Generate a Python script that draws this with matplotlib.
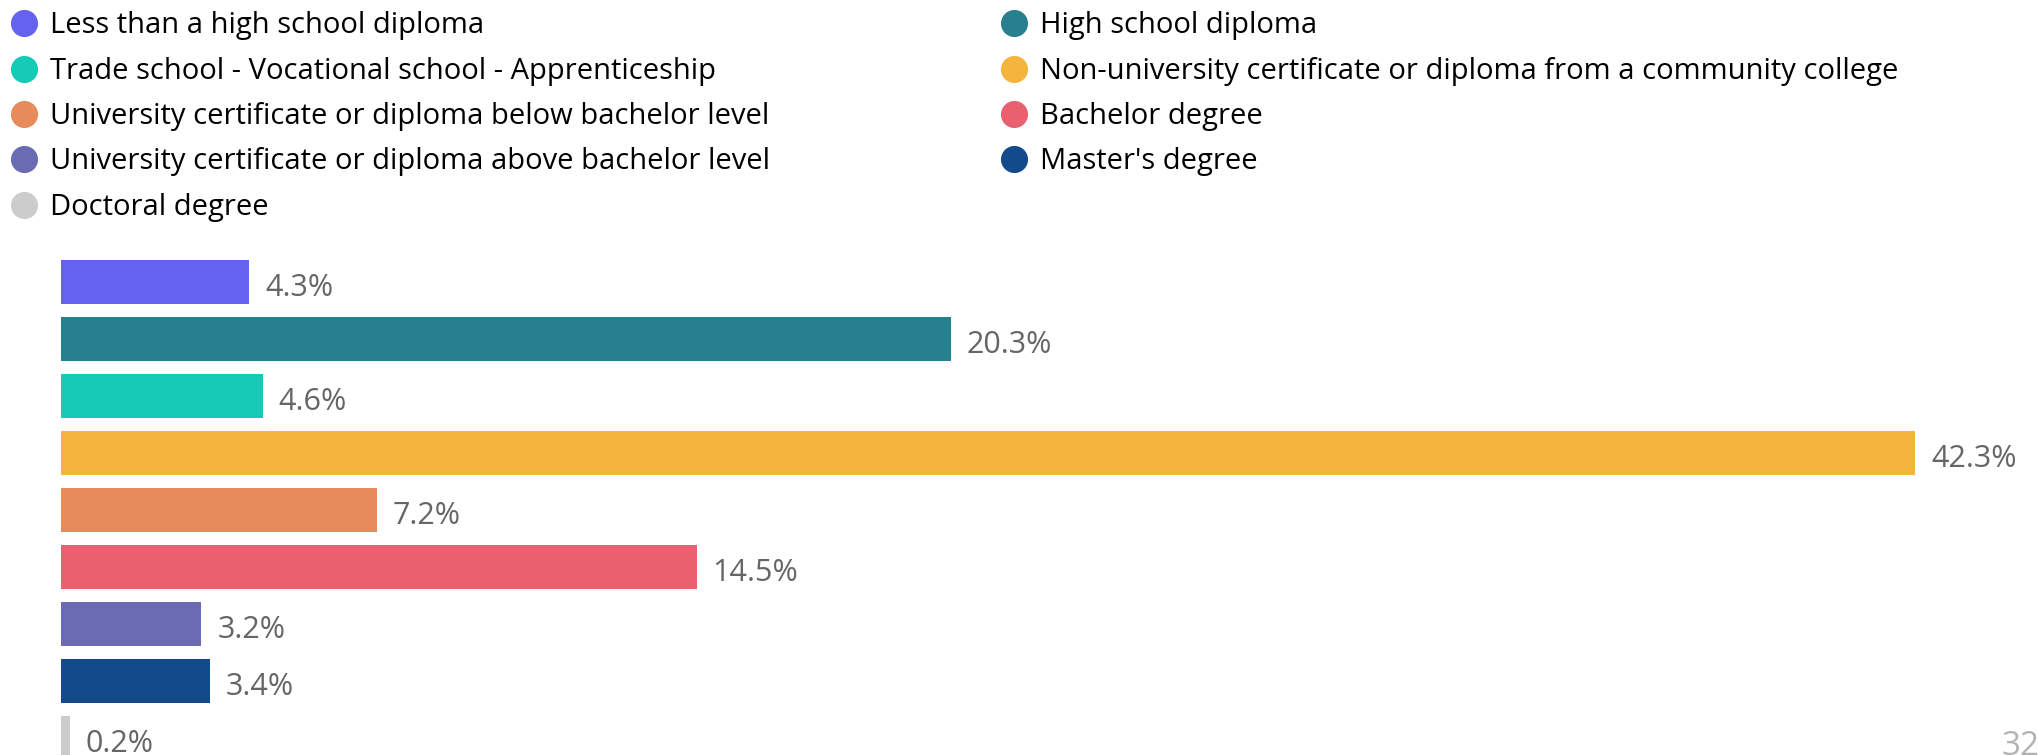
import matplotlib.pyplot as plt
from matplotlib.lines import Line2D

categories = [
    'Less than a high school diploma',
    'High school diploma',
    'Trade school - Vocational school - Apprenticeship',
    'Non-university certificate or diploma from a community college',
    'University certificate or diploma below bachelor level',
    'Bachelor degree',
    'University certificate or diploma above bachelor level',
    "Master's degree",
    'Doctoral degree',
]
values = [4.3, 20.3, 4.6, 42.3, 7.2, 14.5, 3.2, 3.4, 0.2]
colors = ['#6462EE', '#28808E', '#15CAB6', '#F5B43D', '#E68B5B',
          '#E9606F', '#6B6BB4', '#124A8C', '#CCCCCC']

plt.rcParams['font.family'] = ['Open Sans', 'DejaVu Sans']

W, H = 2038, 755
fig = plt.figure(figsize=(W / 100, H / 100), dpi=100)
ax = fig.add_axes([0, 0, 1, 1])

# pixel layout of the bar area
px_per_pct = 43.83
x0_px = 61
y0_px = 282
step_px = 57
ax.set_xlim(-x0_px / px_per_pct, (W - x0_px) / px_per_pct)
ax.set_ylim((H - y0_px) / step_px, -y0_px / step_px)
ax.axis('off')

ypos = list(range(len(values)))
ax.barh(ypos, values, height=44 / step_px, color=colors)
for y, v in zip(ypos, values):
    ax.text(v + 16 / px_per_pct, y + 0.1, f'{v}%', va='center', ha='left',
            fontsize=22, color='#666666')

# legend in two columns, filled row by row
handles = [Line2D([], [], marker='o', linestyle='', markersize=18.5,
                  markerfacecolor=c, markeredgecolor=c) for c in colors]
for col, xa in ((0, -8 / W), (1, 982 / W)):
    idx = list(range(col, len(categories), 2))
    fig.legend([handles[i] for i in idx], [categories[i] for i in idx],
               loc='upper left', bbox_to_anchor=(xa, 1 + 9 / H),
               frameon=False, fontsize=21, handlelength=0.8,
               handletextpad=0.5, labelspacing=0.56, borderpad=0.2)

fig.text(2002 / W, 1 - 730 / H, '32', ha='left', va='top',
         fontsize=24, color='#B3B3B3')

fig.savefig('out.png', dpi=100)
